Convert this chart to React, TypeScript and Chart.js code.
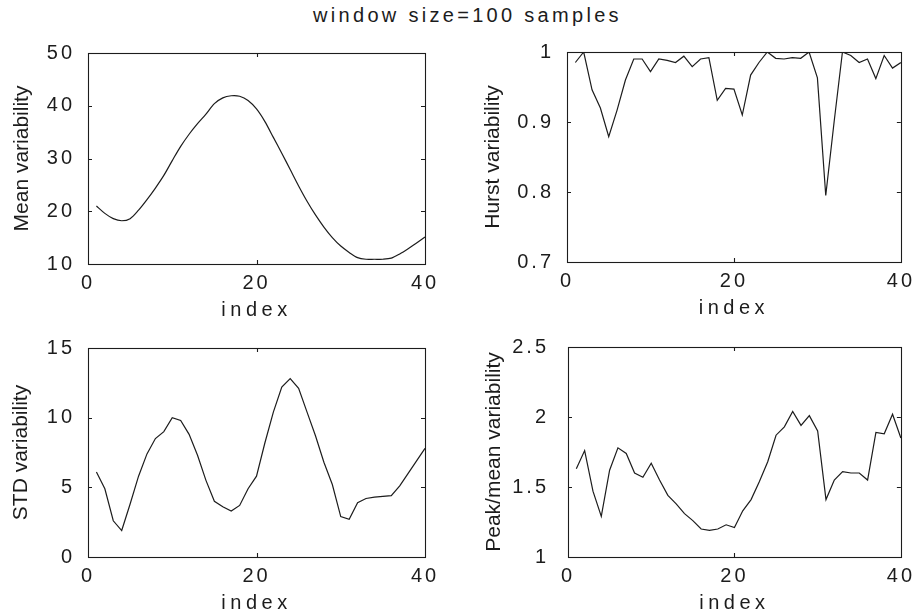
import React, { useEffect, useRef } from "react";
import { Chart, registerables } from "chart.js";

Chart.register(...registerables);

// ---------------- data ----------------
const indexValues = [
  1, 2, 3, 4, 5, 6, 7, 8, 9, 10, 11, 12, 13, 14, 15, 16, 17, 18, 19, 20,
  21, 22, 23, 24, 25, 26, 27, 28, 29, 30, 31, 32, 33, 34, 35, 36, 37, 38, 39, 40,
];

const meanVariability = [
  21.0, 19.6, 18.6, 18.2, 18.6, 20.2, 22.2, 24.4, 26.8, 29.6,
  32.3, 34.6, 36.6, 38.4, 40.4, 41.5, 41.9, 41.8, 41.0, 39.4,
  37.0, 34.0, 31.0, 27.9, 24.8, 21.9, 19.3, 17.0, 15.0, 13.4,
  12.2, 11.2, 10.9, 10.9, 10.9, 11.1, 11.9, 12.9, 14.0, 15.1,
];

const hurstVariability = [
  0.985, 1.0, 0.946, 0.92, 0.879, 0.917, 0.96, 0.99, 0.99, 0.972,
  0.99, 0.988, 0.985, 0.994, 0.979, 0.99, 0.992, 0.931, 0.948, 0.947,
  0.91, 0.967, 0.985, 1.0, 0.991, 0.99, 0.992, 0.991, 1.0, 0.963,
  0.795, 0.9, 1.0, 0.995, 0.985, 0.99, 0.962, 0.995, 0.977, 0.985,
];

const stdVariability = [
  6.1, 4.9, 2.6, 1.9, 3.8, 5.8, 7.4, 8.5, 9.0, 10.0,
  9.8, 8.8, 7.3, 5.5, 4.0, 3.6, 3.3, 3.7, 4.9, 5.8,
  8.2, 10.4, 12.2, 12.8, 12.1, 10.4, 8.7, 6.8, 5.2, 2.9,
  2.7, 3.9, 4.2, 4.3, 4.35, 4.4, 5.1, 6.0, 6.9, 7.8,
];

const peakMeanVariability = [
  1.63, 1.76, 1.47, 1.29, 1.62, 1.78, 1.74, 1.6, 1.57, 1.67,
  1.55, 1.44, 1.38, 1.31, 1.26, 1.2, 1.19, 1.2, 1.23, 1.21,
  1.33, 1.41, 1.54, 1.68, 1.87, 1.93, 2.04, 1.94, 2.01, 1.9,
  1.41, 1.55, 1.61, 1.6, 1.6, 1.55, 1.89, 1.88, 2.02, 1.85,
];

const xTicks = [0, 20, 40];
const meanTicks = [10, 20, 30, 40, 50];
const hurstTicks = [0.7, 0.8, 0.9, 1];
const stdTicks = [0, 5, 10, 15];
const peakTicks = [1, 1.5, 2, 2.5];

const figureTitle = "window size=100 samples";
const xTitle = "index";

// ---------------- layout / style ----------------
const W = 919;
const H = 615;
const YW = 88; // y-axis box width
const XH = 58; // x-axis box height
const FONT = '"Liberation Sans", Arial, Helvetica, sans-serif';
const INK = "#1c1c1c";

type Panel = {
  key: string;
  values: number[];
  yMin: number;
  yMax: number;
  yTicks: number[];
  yTitle: string;
  area: { l: number; t: number; r: number; b: number };
  titlePad: number;
  tickPad: number;
  tension: number;
};

const panels: Panel[] = [
  {
    key: "mean", values: meanVariability, yMin: 10, yMax: 50, yTicks: meanTicks,
    yTitle: "Mean variability", area: { l: 88, t: 53, r: 425, b: 264 },
    titlePad: 10, tickPad: 13, tension: 0.3,
  },
  {
    key: "hurst", values: hurstVariability, yMin: 0.7, yMax: 1, yTicks: hurstTicks,
    yTitle: "Hurst variability", area: { l: 567, t: 52, r: 903, b: 262 },
    titlePad: 2, tickPad: 13, tension: 0,
  },
  {
    key: "std", values: stdVariability, yMin: 0, yMax: 15, yTicks: stdTicks,
    yTitle: "STD variability", area: { l: 88, t: 348, r: 425, b: 557 },
    titlePad: 9, tickPad: 13, tension: 0,
  },
  {
    key: "peak", values: peakMeanVariability, yMin: 1, yMax: 2.5, yTicks: peakTicks,
    yTitle: "Peak/mean variability", area: { l: 568, t: 347, r: 903, b: 557 },
    titlePad: 2, tickPad: 19, tension: 0,
  },
];

const fmt = (v: number) => String(Number(v.toFixed(2)));

function patchSpacing(scale: any, tickSpacing: string, titleSpacing: string) {
  if (scale.__spacingPatched) return;
  scale.__spacingPatched = true;
  const dl = scale.drawLabels.bind(scale);
  const dt = scale.drawTitle.bind(scale);
  scale.drawLabels = (ca: any) => {
    const ctx = scale.ctx;
    const prev = ctx.letterSpacing;
    ctx.letterSpacing = tickSpacing;
    dl(ca);
    ctx.letterSpacing = prev || "0px";
  };
  scale.drawTitle = () => {
    const ctx = scale.ctx;
    const prev = ctx.letterSpacing;
    ctx.letterSpacing = titleSpacing;
    dt();
    ctx.letterSpacing = prev || "0px";
  };
}

const framePlugin = {
  id: "matlabFrame",
  afterDatasetsDraw(chart: any) {
    const { ctx, chartArea: a, scales } = chart;
    ctx.save();
    ctx.strokeStyle = INK;
    ctx.lineWidth = 1.1;
    ctx.strokeRect(Math.round(a.left) + 0.5, Math.round(a.top) + 0.5, Math.round(a.right - a.left), Math.round(a.bottom - a.top));
    const L = 4;
    ctx.beginPath();
    scales.x.ticks.forEach((t: any) => {
      const px = Math.round(scales.x.getPixelForValue(t.value)) + 0.5;
      if (px <= a.left + 2 || px >= a.right - 2) return;
      ctx.moveTo(px, a.bottom);
      ctx.lineTo(px, a.bottom - L);
      ctx.moveTo(px, a.top);
      ctx.lineTo(px, a.top + L);
    });
    scales.y.ticks.forEach((t: any) => {
      const py = Math.round(scales.y.getPixelForValue(t.value)) + 0.5;
      if (py <= a.top + 2 || py >= a.bottom - 2) return;
      ctx.moveTo(a.left, py);
      ctx.lineTo(a.left + L, py);
      ctx.moveTo(a.right, py);
      ctx.lineTo(a.right - L, py);
    });
    ctx.stroke();
    ctx.restore();
  },
};

function PanelChart({ p }: { p: Panel }) {
  const ref = useRef<HTMLCanvasElement | null>(null);
  useEffect(() => {
    if (!ref.current) return;
    const font = { family: FONT, size: 20, weight: "normal" as const };
    const yTitleFont = { family: FONT, size: 21, weight: "normal" as const };
    const chart = new Chart(ref.current, {
      type: "line",
      data: {
        datasets: [
          {
            data: indexValues.map((x, i) => ({ x, y: p.values[i] })),
            borderColor: INK,
            borderWidth: 1.2,
            pointRadius: 0,
            fill: false,
            tension: p.tension,
          },
        ],
      },
      options: {
        animation: false,
        responsive: false,
        maintainAspectRatio: false,
        devicePixelRatio: 1,
        events: [],
        layout: {
          padding: {
            left: p.area.l - YW,
            top: p.area.t,
            right: W - p.area.r,
            bottom: H - p.area.b - XH,
          },
        },
        plugins: {
          legend: { display: false },
          tooltip: { enabled: false },
          title: { display: false },
        },
        scales: {
          x: {
            type: "linear",
            min: 0,
            max: 40,
            afterBuildTicks: (s: any) => {
              s.ticks = xTicks.map((v) => ({ value: v }));
            },
            afterFit: (s: any) => {
              s.height = XH;
            },
            afterUpdate: (s: any) => patchSpacing(s, "3px", "4.5px"),
            grid: { display: false, drawTicks: false },
            border: { display: false },
            ticks: {
              font,
              color: INK,
              padding: 7,
              maxRotation: 0,
              autoSkip: false,
              callback: (v: any) => fmt(Number(v)),
            },
            title: {
              display: true,
              text: xTitle,
              font,
              color: INK,
              padding: { top: 0, bottom: 0 },
            },
          },
          y: {
            type: "linear",
            min: p.yMin,
            max: p.yMax,
            afterBuildTicks: (s: any) => {
              s.ticks = p.yTicks.map((v) => ({ value: v }));
            },
            afterFit: (s: any) => {
              s.width = YW;
            },
            afterUpdate: (s: any) => patchSpacing(s, "3px", "0px"),
            grid: { display: false, drawTicks: false },
            border: { display: false },
            ticks: {
              font,
              color: INK,
              padding: p.tickPad,
              autoSkip: false,
              callback: (v: any) => fmt(Number(v)),
            },
            title: {
              display: true,
              text: p.yTitle,
              font: yTitleFont,
              color: INK,
              padding: { top: p.titlePad, bottom: 0 },
            },
          },
        },
      },
      plugins: [framePlugin],
    } as any);
    return () => chart.destroy();
  }, [p]);
  return (
    <canvas
      ref={ref}
      width={W}
      height={H}
      style={{ position: "absolute", left: 0, top: 0, width: W, height: H }}
    />
  );
}

export default function App() {
  return (
    <div
      style={{
        position: "fixed",
        left: 0,
        top: 0,
        width: W,
        height: H,
        background: "#ffffff",
        overflow: "hidden",
      }}
    >
      <div
        style={{
          position: "absolute",
          left: 0,
          top: 3,
          width: 935,
          textAlign: "center",
          fontFamily: FONT,
          fontSize: 20,
          lineHeight: "24px",
          letterSpacing: "3.3px",
          color: INK,
          whiteSpace: "nowrap",
        }}
      >
        {figureTitle}
      </div>
      {panels.map((p) => (
        <PanelChart key={p.key} p={p} />
      ))}
    </div>
  );
}
